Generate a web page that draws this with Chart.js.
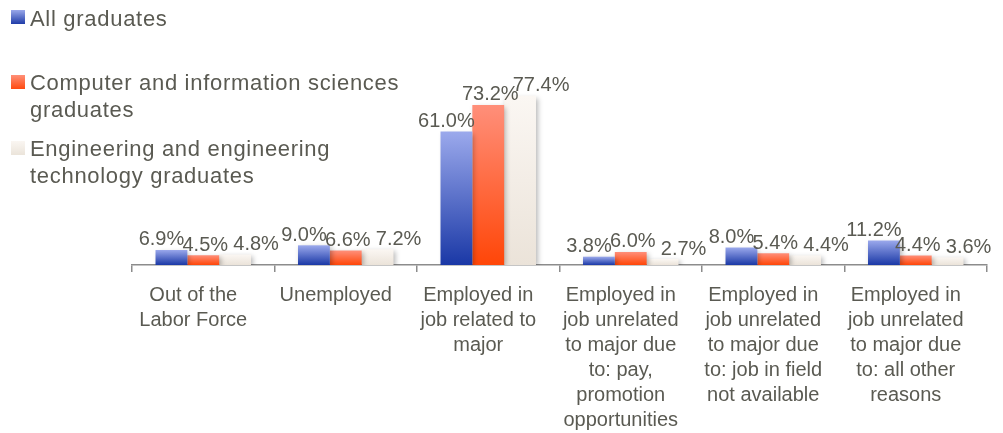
<!DOCTYPE html>
<html><head><meta charset="utf-8">
<script src="https://cdn.jsdelivr.net/npm/chart.js@4/dist/chart.umd.min.js"></script>
<style>
html,body{margin:0;padding:0;background:#fff;}
#wrap{position:relative;width:1003px;height:433px;}
canvas{position:absolute;left:0;top:0;}
.leg{position:absolute;font-family:"Liberation Sans",Arial,sans-serif;font-size:22px;color:#5a5a52;line-height:27px;letter-spacing:0.7px;white-space:nowrap;}
.sw{position:absolute;width:14px;height:14px;}
</style></head>
<body><div id="wrap"><canvas id="c" width="1003" height="433"></canvas>
<div class="sw" style="left:11px;top:10px;background:linear-gradient(#9aa8ea,#1f3ca8)"></div>
<div class="leg" style="left:30px;top:5px">All graduates</div>
<div class="sw" style="left:11px;top:75px;background:linear-gradient(#ff9078,#ff4a10)"></div>
<div class="leg" style="left:30px;top:69px">Computer and information sciences<br>graduates</div>
<div class="sw" style="left:11px;top:141px;background:linear-gradient(#faf6f2,#ebe4da)"></div>
<div class="leg" style="left:30px;top:135px">Engineering and engineering<br>technology graduates</div>
</div>
<script>
const categories = [
  ["Out of the","Labor Force"],
  ["Unemployed"],
  ["Employed in","job related to","major"],
  ["Employed in","job unrelated","to major due","to: pay,","promotion","opportunities"],
  ["Employed in","job unrelated","to major due","to: job in field","not available"],
  ["Employed in","job unrelated","to major due","to: all other","reasons"]
];
const seriesNames = ["All graduates","Computer and information sciences graduates","Engineering and engineering technology graduates"];
const allGraduates = [6.9, 9.0, 61.0, 3.8, 8.0, 11.2];
const computerGraduates = [4.5, 6.6, 73.2, 6.0, 5.4, 4.4];
const engineeringGraduates = [4.8, 7.2, 77.4, 2.7, 4.4, 3.6];

const gradStops = [["#9ba9ec","#1a38a6"],["#ff8f7a","#ff4608"],["#fbf7f3","#ebe3d9"]];
const labelDx = [-10, 2, 21];

function makeBg(i){
  return function(ctx){
    const chart = ctx.chart; const ca = chart.chartArea;
    if(!ca || ctx.parsed === undefined) return gradStops[i][1];
    const ys = chart.scales.y;
    const top = ys.getPixelForValue(ctx.parsed.y), base = ys.getPixelForValue(0);
    const g = chart.ctx.createLinearGradient(0, top, 0, base);
    g.addColorStop(0, gradStops[i][0]); g.addColorStop(1, gradStops[i][1]);
    return g;
  };
}

const shadowPlugin = {
  id:'shadow',
  beforeDatasetDraw(chart){ const c=chart.ctx; c.save(); c.shadowColor='rgba(0,0,0,0.28)'; c.shadowBlur=5; c.shadowOffsetX=2; c.shadowOffsetY=2; },
  afterDatasetDraw(chart){ chart.ctx.restore(); }
};
const labelPlugin = {
  id:'vlabels',
  afterDatasetsDraw(chart){
    const c = chart.ctx; c.save();
    c.font = '20px "Liberation Sans", Arial, sans-serif'; c.fillStyle = '#5a5a52';
    c.textAlign='center'; c.textBaseline='middle';
    chart.data.datasets.forEach((ds,i)=>{
      chart.getDatasetMeta(i).data.forEach((el,j)=>{
        c.fillText(ds.data[j].toFixed(1)+'%', el.x + labelDx[i], el.y - 10);
      });
    });
    c.restore();
  }
};

new Chart(document.getElementById('c'), {
  type:'bar',
  data:{ labels: categories, datasets:[
    {label:seriesNames[0], data:allGraduates, backgroundColor:makeBg(0)},
    {label:seriesNames[1], data:computerGraduates, backgroundColor:makeBg(1)},
    {label:seriesNames[2], data:engineeringGraduates, backgroundColor:makeBg(2)}
  ]},
  options:{
    responsive:false, animation:false,
    layout:{padding:{left:132,right:16,top:90,bottom:0}},
    datasets:{bar:{categoryPercentage:0.67,barPercentage:1,borderWidth:0}},
    plugins:{legend:{display:false},tooltip:{enabled:false}},
    scales:{
      y:{display:false,min:0,max:80},
      x:{
        grid:{offset:true,drawOnChartArea:false,tickLength:7,color:'#8c8c8c',lineWidth:1.5},
        border:{color:'#8c8c8c',width:1.5},
        ticks:{font:{family:'"Liberation Sans", Arial, sans-serif',size:20,lineHeight:1.25},color:'#5a5a52',padding:11,labelOffset:-10,maxRotation:0,autoSkip:false},
        afterFit(s){ s.height = 168; }
      }
    }
  },
  plugins:[shadowPlugin,labelPlugin]
});
</script></body></html>
